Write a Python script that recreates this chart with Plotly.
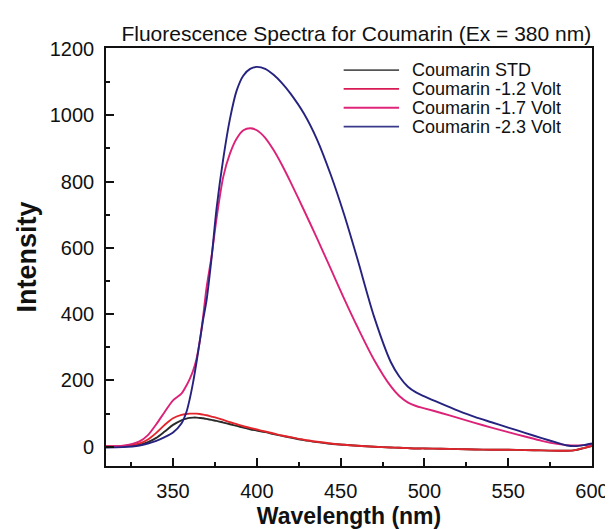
import plotly.graph_objects as go

wavelength = [310, 320, 330, 335, 340, 345, 350, 355, 358, 360, 362, 364, 366, 368, 370,
              373, 376, 380, 384, 388, 392, 396, 400, 405, 410, 415, 420, 428, 436, 444,
              452, 460, 470, 480, 485, 490, 495, 500, 510, 520, 530, 540, 550, 560, 570,
              580, 585, 590, 595, 600]

std = [0, 1, 6, 14, 27, 46, 66, 80, 85, 87, 88, 88, 87, 86, 84,
       81, 78, 73, 68, 63, 58, 53, 49, 44, 38, 33, 28, 20, 14, 9,
       6, 3, 0, -2, -3, -4, -5, -5, -6, -7, -8, -9, -9, -10, -11,
       -12, -12, -10, -4, 2]

v12 = [1, 2, 10, 22, 42, 66, 86, 96, 99, 100, 100, 100, 99, 97, 95,
       91, 87, 81, 74, 68, 62, 57, 52, 46, 40, 34, 29, 21, 15, 10,
       6, 3, 0, -2, -3, -4, -5, -5, -6, -7, -8, -9, -9, -10, -11,
       -12, -12, -10, -4, 3]

v17 = [2, 3, 16, 35, 68, 105, 140, 160, 185, 205, 230, 265, 320, 395, 480,
       575, 690, 815, 885, 930, 955, 961, 955, 932, 895, 850, 800, 715, 628, 538,
       448, 362, 262, 182, 153, 134, 123, 116, 102, 87, 72, 58, 44, 31, 18,
       8, 5, 4, 5, 7]

v23 = [-2, -1, 4, 10, 18, 29, 43, 70, 105, 145, 195, 255, 320, 385, 442,
       570, 720, 870, 990, 1075, 1120, 1140, 1146, 1140, 1122, 1097, 1066, 1006, 926, 822,
       702, 567, 392, 255, 212, 182, 164, 152, 130, 109, 90, 74, 58, 42, 26,
       11, 4, 2, 5, 10]

names = ["Coumarin STD", "Coumarin -1.2 Volt", "Coumarin -1.7 Volt", "Coumarin -2.3 Volt"]
series = [std, v12, v17, v23]
colors = ["#2a2a2a", "#e3242b", "#dc2277", "#25237f"]
legend_colors = ["#555555", "#d81b55", "#e0267a", "#3a3a8c"]

fig = go.Figure()
for name, ys, c in zip(names, series, colors):
    fig.add_trace(go.Scatter(x=wavelength, y=ys, mode="lines", name=name,
                             line=dict(color=c, width=1.9, shape="spline", smoothing=0.8),
                             showlegend=False))

# manual legend (paper coordinates)
row_y = [0.947, 0.902, 0.857, 0.812]
for name, c, yy in zip(names, legend_colors, row_y):
    fig.add_shape(type="line", xref="paper", yref="paper", x0=0.489, x1=0.603, y0=yy, y1=yy,
                  line=dict(color=c, width=1.8))
    fig.add_annotation(xref="paper", yref="paper", x=0.626, y=yy, text=name, showarrow=False,
                       xanchor="left", yanchor="middle", height=18, valign="middle",
                       font=dict(family="Liberation Sans, Arial", size=18, color="#111"))

axis_common = dict(showgrid=False, zeroline=False, showline=True, linecolor="#111", linewidth=1.6,
                   mirror=True, ticks="inside", tickcolor="#111", tickwidth=1.5, ticklen=8,
                   tickfont=dict(family="Liberation Sans, Arial", size=20, color="#111"))

fig.update_xaxes(range=[310, 600], tick0=350, dtick=50, ticklabelstandoff=6,
                 ticklabeloverflow="allow",
                 minor=dict(ticks="inside", dtick=25, ticklen=4, tickcolor="#111", tickwidth=1.5),
                 title=dict(text="<b>Wavelength (nm)</b>", standoff=7,
                            font=dict(family="Liberation Sans, Arial", size=23, color="#111")),
                 **axis_common)
fig.update_yaxes(range=[-58, 1203], tick0=0, dtick=200, ticklabelstandoff=6,
                 minor=dict(ticks="inside", dtick=100, ticklen=4, tickcolor="#111", tickwidth=1.5),
                 title=dict(text="<b>Intensity</b>", standoff=5,
                            font=dict(family="Liberation Sans, Arial", size=27, color="#111")),
                 **axis_common)

fig.update_layout(
    width=613, height=529,
    margin=dict(l=98, r=14, t=40, b=58, pad=0),
    paper_bgcolor="white", plot_bgcolor="white",
    title=dict(text="Fluorescence Spectra for Coumarin (Ex = 380 nm)",
               xref="paper", x=0.515, xanchor="center",
               yref="container", y=1 - 25.7 / 529, yanchor="middle",
               font=dict(family="Liberation Sans, Arial", size=21, color="#111")),
    showlegend=False,
)

fig.write_html("out.html")
